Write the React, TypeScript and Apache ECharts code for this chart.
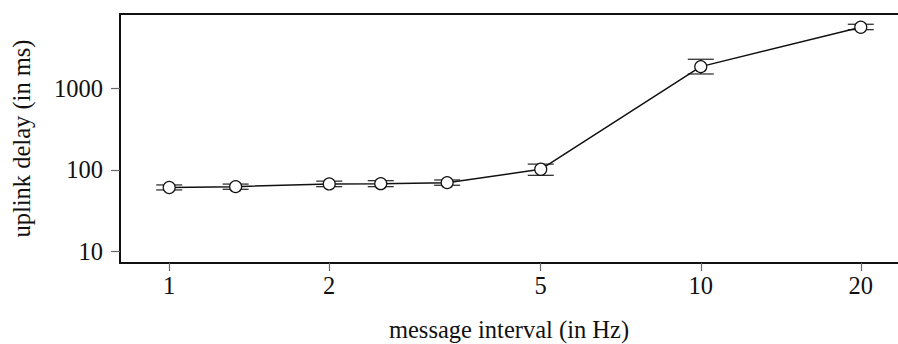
import React, { useEffect, useRef } from "react";
import * as echarts from "echarts";

const frequencies = [1, 4 / 3, 2, 2.5, 10 / 3, 5, 10, 20];
const delays = [61, 62.5, 67.5, 68, 70, 102, 1840, 5580];
const delayHigh = [65.6, 67.2, 73, 74, 75.5, 118, 2264, 6070];
const delayLow = [57, 58, 62.5, 62.5, 65, 86, 1496, 5215];
const xTicks = [1, 2, 5, 10, 20];
const yTicks = [10, 100, 1000];

const FONT = "'Liberation Serif', 'Times New Roman', serif";

export default function App() {
  const ref = useRef<HTMLDivElement>(null);
  useEffect(() => {
    if (!ref.current) return;
    const chart = echarts.init(ref.current, null, { renderer: "svg" });
    const points = frequencies.map((f, i) => [f, delays[i]]);
    const errors = frequencies.map((f, i) => [f, delayLow[i], delayHigh[i]]);
    chart.setOption({
      animation: false,
      backgroundColor: "#ffffff",
      textStyle: { fontFamily: FONT },
      grid: { left: 120, right: 0, top: 14, bottom: 81, outerBoundsMode: "none", containLabel: false },
      xAxis: [
        {
          type: "log",
          logBase: 10,
          min: 0.808,
          max: 23.5,
          name: "message interval (in Hz)",
          nameLocation: "middle",
          nameGap: 54,
          nameTextStyle: { fontFamily: FONT, fontSize: 24.5, color: "#111" },
          axisLine: { show: true, lineStyle: { color: "#111", width: 2 } },
          axisTick: {
            show: true,
            customValues: xTicks,
            length: 8,
            lineStyle: { color: "#666", width: 1.2 },
          },
          axisLabel: {
            customValues: xTicks,
            fontFamily: FONT,
            fontSize: 24.5,
            color: "#111",
            margin: 10,
            formatter: (v: number) => String(Math.round(v)),
          },
          minorTick: { show: false },
          splitLine: { show: false },
        },
        {
          type: "value",
          position: "top",
          min: 0,
          max: 1,
          axisLine: { show: true, lineStyle: { color: "#111", width: 2 } },
          axisTick: { show: false },
          axisLabel: { show: false },
          splitLine: { show: false },
        },
      ],
      yAxis: {
        type: "log",
        logBase: 10,
        min: 7.27,
        max: 8110,
        name: "uplink delay (in ms)",
        nameLocation: "middle",
        nameGap: 86,
        nameTextStyle: { fontFamily: FONT, fontSize: 24.5, color: "#111" },
        axisLine: { show: true, lineStyle: { color: "#111", width: 2 } },
        axisTick: {
          show: true,
          customValues: yTicks,
          length: 9,
          lineStyle: { color: "#666", width: 1.2 },
        },
        axisLabel: {
          customValues: yTicks,
          fontFamily: FONT,
          fontSize: 24.5,
          color: "#111",
          margin: 17,
          formatter: (v: number) => String(Math.round(v)),
        },
        splitLine: { show: false },
      },
      series: [
        {
          type: "custom",
          xAxisIndex: 0,
          z: 1,
          data: errors,
          renderItem: (params: any, api: any) => {
            const x = api.value(0);
            const lo = api.coord([x, api.value(1)]);
            const hi = api.coord([x, api.value(2)]);
            const hw = 13;
            const style = { stroke: "#333", lineWidth: 1.3, fill: "none" };
            return {
              type: "group",
              children: [
                { type: "line", shape: { x1: lo[0], y1: lo[1], x2: hi[0], y2: hi[1] }, style },
                { type: "line", shape: { x1: lo[0] - hw, y1: lo[1], x2: lo[0] + hw, y2: lo[1] }, style },
                { type: "line", shape: { x1: hi[0] - hw, y1: hi[1], x2: hi[0] + hw, y2: hi[1] }, style },
              ],
            };
          },
        },
        {
          type: "line",
          xAxisIndex: 0,
          z: 3,
          data: points,
          symbol: "circle",
          symbolSize: 12,
          showAllSymbol: true,
          lineStyle: { color: "#111", width: 1.5 },
          itemStyle: { color: "#ffffff", borderColor: "#111", borderWidth: 1.2 },
        },
      ],
    });
    return () => chart.dispose();
  }, []);
  return (
    <div
      ref={ref}
      style={{ position: "fixed", left: 0, top: 0, width: 898, height: 344 }}
    />
  );
}
